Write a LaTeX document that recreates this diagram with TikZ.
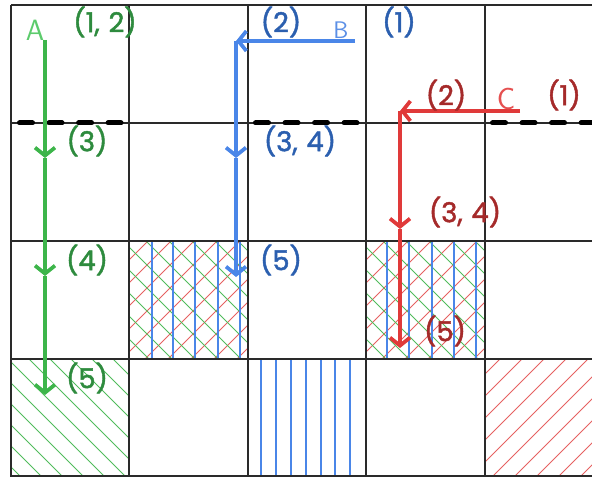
\documentclass[tikz,border=0pt]{standalone}
\usepackage{fontspec}
\newfontfamily\labfont{Poppins}[FakeBold=1.6]
\usetikzlibrary{arrows.meta}
\definecolor{gline}{HTML}{3DB54A}
\definecolor{gtext}{HTML}{2E8B3E}
\definecolor{gletter}{HTML}{5CCB6C}
\definecolor{bline}{HTML}{4A86E8}
\definecolor{btext}{HTML}{2B5FAF}
\definecolor{bletter}{HTML}{5B8FE6}
\definecolor{rline}{HTML}{E03A3A}
\definecolor{rtext}{HTML}{A52A2A}
\definecolor{rletter}{HTML}{E55050}
\definecolor{gridc}{HTML}{2A2A2A}
\tikzset{
  gridline/.style={draw=gridc, line width=1.1pt},
  cutline/.style={draw=black, line width=3.75pt, line cap=round, dash pattern=on 9.75pt off 12.4pt},
  flow/.style={line width=3pt, -{Straight Barb[length=6pt,width=15pt,line width=2.8pt]}},
  hatch/.style={line width=0.55pt},
  lab/.style={font=\labfont\fontsize{20.5}{22}\selectfont, inner sep=0pt},
  letter/.style={font=\sffamily\fontsize{22}{24}\selectfont, inner sep=0pt},
}
\newcommand{\cs}{,\hspace{0.32em}}
\begin{document}
\begin{tikzpicture}[x=0.75pt,y=-0.75pt]
\useasboundingbox (0,0) rectangle (592,477);
% ---- hatched cells ----
\begin{scope}
  \clip (129,241) rectangle (248,359);
  \foreach \x in {-16,7,...,270} \draw[hatch,rline!80] (\x,359) -- ++(130,-130);
  \foreach \x in {-15,8,...,270} \draw[hatch,gline!90] (\x,241) -- ++(130,130);
  \foreach \x in {152,173,195,218,240} \draw[hatch,bline,line width=0.8pt] (\x,241) -- (\x,359);
\end{scope}
\begin{scope}
  \clip (366,241) rectangle (485,359);
  \foreach \x in {221,244,...,510} \draw[hatch,rline!80] (\x,359) -- ++(130,-130);
  \foreach \x in {222,245,...,510} \draw[hatch,gline!90] (\x,241) -- ++(130,130);
  \foreach \x in {387,409,432,454,476} \draw[hatch,bline,line width=0.8pt] (\x,241) -- (\x,359);
\end{scope}
\begin{scope}
  \clip (11,359) rectangle (129,477);
  \foreach \x in {-118,-97,...,140} \draw[hatch,gline!90] (\x,359) -- ++(130,130);
\end{scope}
\begin{scope}
  \foreach \x in {261,276,291,306,321,335,350} \draw[hatch,bline,line width=0.8pt] (\x,359) -- (\x,477);
\end{scope}
\begin{scope}
  \clip (485,359) rectangle (603,477);
  \foreach \x in {360,382,...,620} \draw[hatch,rline!80] (\x,477) -- ++(130,-130);
\end{scope}
% ---- grid ----
\foreach \y in {5,123,241,359,476} \draw[gridline] (11,\y) -- (592,\y);
\foreach \x in {11,129,248,366,485} \draw[gridline] (\x,5) -- (\x,477);
% ---- cut lines ----
\coordinate (d1s) at (19.5,123); \coordinate (d1e) at (121,123);
\coordinate (d2s) at (255.5,123); \coordinate (d2e) at (357,123);
\coordinate (d3s) at (492.5,123); \coordinate (d3e) at (600,123);
\draw[cutline] (d1s) -- (d1e);
\draw[cutline] (d2s) -- (d2e);
\draw[cutline] (d3s) -- (d3e);
% ---- flow A (green) ----
\coordinate (a0) at (45,40); \coordinate (a1) at (45,158);
\coordinate (a2) at (45,276); \coordinate (a3) at (45,395);
\draw[flow,gline] (a0) -- (a1);
\draw[flow,gline] (a1) -- (a2);
\draw[flow,gline] (a2) -- (a3);
% ---- flow B (blue) ----
\coordinate (b0) at (355,41); \coordinate (b1) at (236,41);
\coordinate (b2) at (236,158); \coordinate (b3) at (236,277);
\draw[flow,bline] (b0) -- (b1);
\draw[flow,bline] (b1) -- (b2);
\draw[flow,bline] (b2) -- (b3);
% ---- flow C (red) ----
\coordinate (c0) at (520,111); \coordinate (c1) at (400,111);
\coordinate (c2) at (400,229); \coordinate (c3) at (400,348);
\draw[flow,rline] (c0) -- (c1);
\draw[flow,rline] (c1) -- (c2);
\draw[flow,rline] (c2) -- (c3);
% ---- letters ----
\node[letter,text=gletter] (lA) at (35,30) {A};
\node[letter,text=bletter,font=\sffamily\fontsize{18}{20}\selectfont] (lB) at (341,30) {B};
\node[letter,text=rletter,font=\sffamily\fontsize{23}{25}\selectfont] (lC) at (506,99) {C};
% ---- labels ----
\node[lab,text=gtext] (g12) at (105,22) {(1\cs 2)};
\node[lab,text=gtext] (g3) at (87,141) {(3)};
\node[lab,text=gtext] (g4) at (87,260) {(4)};
\node[lab,text=gtext] (g5) at (87,378) {(5)};
\node[lab,text=btext] (b2l) at (281,22) {(2)};
\node[lab,text=btext] (b1l) at (399,22) {(1)};
\node[lab,text=btext] (b34) at (300,141) {(3\cs 4)};
\node[lab,text=btext] (b5) at (281,260) {(5)};
\node[lab,text=rtext] (r2) at (446,95) {(2)};
\node[lab,text=rtext] (r1) at (564,95) {(1)};
\node[lab,text=rtext] (r34) at (465,212) {(3\cs 4)};
\node[lab,text=rtext] (r5) at (445,331) {(5)};
\end{tikzpicture}
\end{document}
